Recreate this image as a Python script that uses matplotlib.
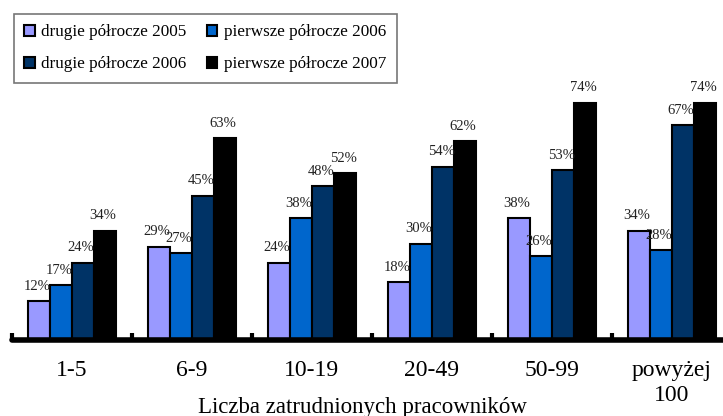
import matplotlib
matplotlib.use("Agg")
import matplotlib.pyplot as plt
import numpy as np

categories = ["1-5", "6-9", "10-19", "20-49", "50-99", "powyżej\n100"]
series_names = ["drugie półrocze 2005", "pierwsze półrocze 2006",
                "drugie półrocze 2006", "pierwsze półrocze 2007"]
h2_2005 = [12, 29, 24, 18, 38, 34]
h1_2006 = [17, 27, 38, 30, 26, 28]
h2_2006 = [24, 45, 48, 54, 53, 67]
h1_2007 = [34, 63, 52, 62, 74, 74]
series_values = [h2_2005, h1_2006, h2_2006, h1_2007]
colors = ["#9999FF", "#0066CC", "#003366", "#000000"]

plt.rcParams['font.family'] = ['Liberation Serif', 'DejaVu Serif']

W, H = 723, 416
fig = plt.figure(figsize=(W / 100, H / 100), dpi=100)
ax = fig.add_axes([11.5 / W, 1 - 339.5 / H, 720 / W, 256 / H])

x = np.arange(len(categories))
w = 22 / 120
handles = []
for i, (vals, col) in enumerate(zip(series_values, colors)):
    pos = x + (i - 1.5) * w
    b = ax.bar(pos, vals, width=w, color=col, edgecolor="black", linewidth=1.5,
               label=series_names[i], zorder=2)
    handles.append(b)
    for p, v in zip(pos, vals):
        ax.annotate(f"{v}%", (p, v), xytext=(-1, 6), textcoords="offset points",
                    ha="center", va="bottom", fontsize=10.5, color="#222222")

ax.set_xlim(-0.5, len(categories) - 0.5)
ax.set_ylim(0, 80)
for s in ["top", "right", "left"]:
    ax.spines[s].set_visible(False)
ax.spines["bottom"].set_linewidth(4)
ax.spines["bottom"].set_capstyle("round")
ax.set_yticks([])
ax.set_xticks(np.arange(len(categories) + 1) - 0.5)
ax.set_xticklabels([])
ax.tick_params(axis="x", which="major", direction="in", length=5, width=3)
ax.set_xticks(x, minor=True)
ax.set_xticklabels(categories, minor=True, fontsize=17, linespacing=1.25)
ax.tick_params(axis="x", which="minor", length=0, pad=15)

fig.text(362 / W, 1 - 407 / H, "Liczba zatrudnionych pracowników",
         ha="center", va="center", fontsize=16.5)

order = [0, 2, 1, 3]
leg = fig.legend([handles[k] for k in order], [series_names[k] for k in order],
                 ncol=2, loc="upper left", bbox_to_anchor=(14 / W, 1 - 14 / H),
                 fontsize=12.3, frameon=True, fancybox=False, borderaxespad=0,
                 handlelength=0.6, handleheight=0.6, handletextpad=0.4,
                 columnspacing=1.2, labelspacing=0.95, borderpad=0.6)
leg.get_frame().set_edgecolor("#555555")
leg.get_frame().set_linewidth(1.2)

fig.savefig("out.png", dpi=100)
